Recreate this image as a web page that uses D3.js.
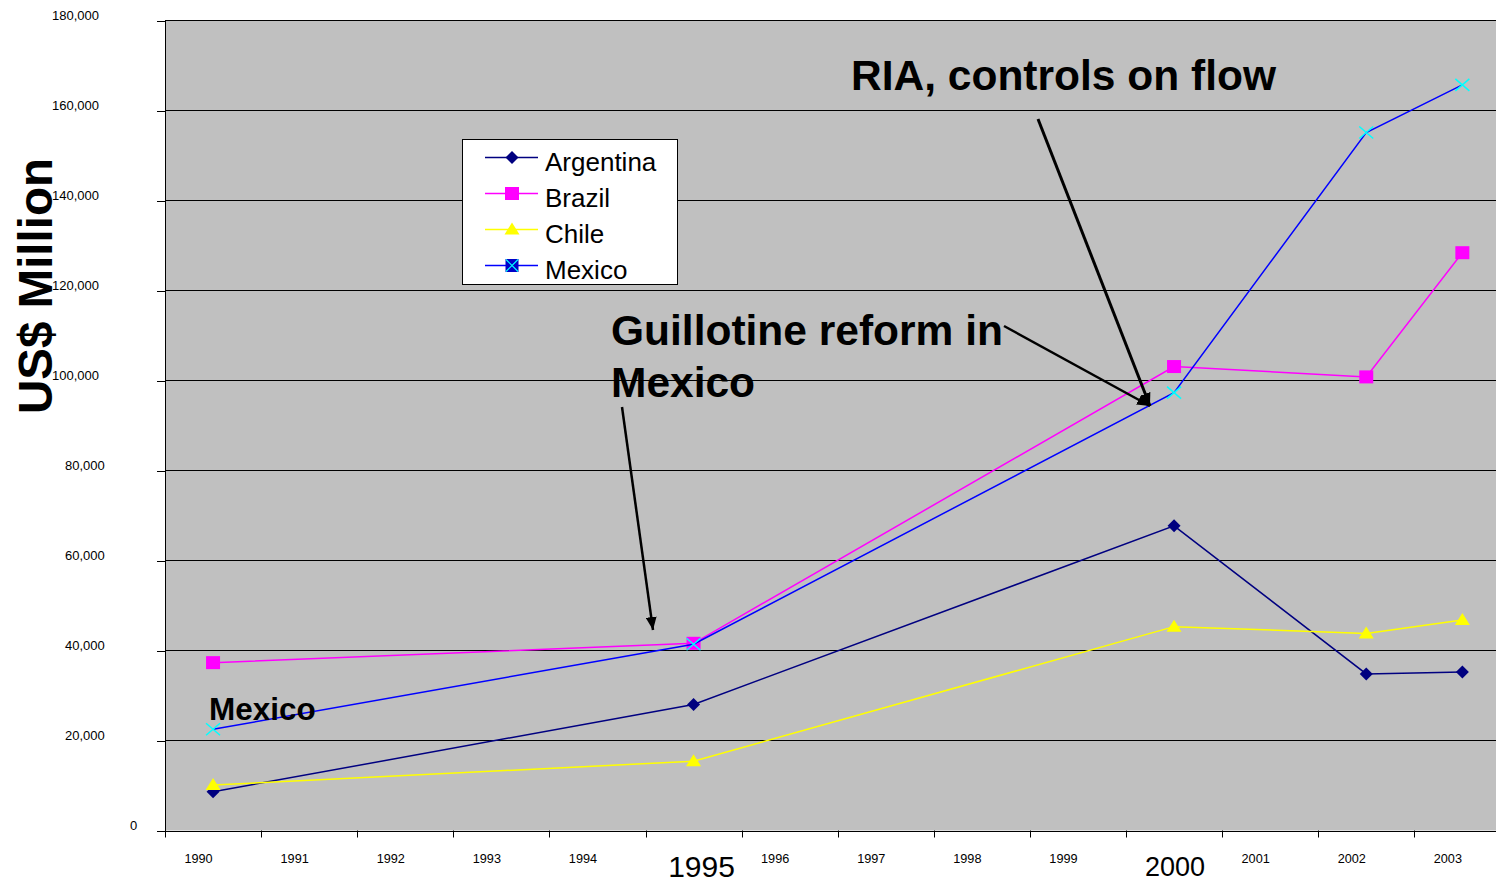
<!DOCTYPE html>
<html>
<head>
<meta charset="utf-8">
<script src="https://cdn.jsdelivr.net/npm/d3@7"></script>
<style>
  html, body { margin: 0; padding: 0; background: #fff; }
  svg { display: block; }
  text { font-family: "Liberation Sans", Arial, sans-serif; }
</style>
</head>
<body>
<svg id="chart" width="1496" height="882"></svg>
<script>
// ---------- data ----------
const categories = ["1990","1991","1992","1993","1994","1995","1996","1997","1998","1999","2000","2001","2002","2003"];
const argentina = [8600, null, null, null, null, 28000, null, null, null, null, 67700, null, 34800, 35200];
const brazil    = [37300, null, null, null, null, 41600, null, null, null, null, 103100, null, 100800, 128400];
const chile     = [10100, null, null, null, null, 15400, null, null, null, null, 45300, null, 43800, 46800];
const mexico    = [22500, null, null, null, null, 41400, null, null, null, null, 97300, null, 155100, 165700];
const seriesNames = ["Argentina", "Brazil", "Chile", "Mexico"];
const yTicks = [0, 20000, 40000, 60000, 80000, 100000, 120000, 140000, 160000, 180000];
const bigYearLabels = ["1995", "2000"];

// ---------- layout ----------
const svg = d3.select("#chart");
const plotLeft = 165, plotTop = 20.5, plotBottom = 830.5, band = 96.1;
const x = d3.scaleBand().domain(categories).range([plotLeft, plotLeft + band * categories.length]).padding(0);
const y = d3.scaleLinear().domain([0, 180000]).range([plotBottom, plotTop]);
const cx = c => x(c) + x.bandwidth() / 2;

// plot background
svg.append("rect")
  .attr("x", plotLeft).attr("y", plotTop)
  .attr("width", x.range()[1] - plotLeft).attr("height", plotBottom - plotTop)
  .attr("fill", "#C0C0C0");

// gridlines
svg.append("g").selectAll("line")
  .data(yTicks.filter(d => d > 0))
  .join("line")
  .attr("x1", plotLeft).attr("x2", x.range()[1])
  .attr("y1", d => y(d)).attr("y2", d => y(d))
  .attr("stroke", "#000").attr("stroke-width", 1)
  .attr("shape-rendering", "crispEdges");

// y axis
const yAxis = svg.append("g")
  .attr("transform", `translate(${plotLeft},0)`)
  .call(d3.axisLeft(y).tickValues(yTicks).tickSize(8).tickSizeOuter(0).tickFormat(d3.format(",")));
yAxis.select(".domain").attr("stroke", "#000").attr("shape-rendering", "crispEdges");
yAxis.selectAll(".tick line").attr("stroke", "#000").attr("shape-rendering", "crispEdges");
yAxis.selectAll(".tick text")
  .attr("text-anchor", "start")
  .attr("font-size", 13)
  .attr("font-family", "Liberation Sans, Arial, sans-serif")
  .attr("fill", "#000")
  .attr("y", -5)
  .attr("x", function() { return -22 - 13 * this.textContent.length; });

// x axis (labels)
const xAxis = svg.append("g")
  .attr("transform", `translate(0,${plotBottom})`)
  .call(d3.axisBottom(x).tickSize(0).tickSizeOuter(0)
    .tickFormat(d => bigYearLabels.includes(d) ? "" : d));
xAxis.select(".domain").attr("stroke", "#000").attr("shape-rendering", "crispEdges");
xAxis.selectAll(".tick text")
  .attr("font-size", 12.7)
  .attr("font-family", "Liberation Sans, Arial, sans-serif")
  .attr("fill", "#000")
  .attr("x", -14.5)
  .attr("y", 32)
  .attr("dy", 0);

// x tick marks at category boundaries
svg.append("g").selectAll("line")
  .data(categories)
  .join("line")
  .attr("x1", d => Math.round(x(d)) + 0.5).attr("x2", d => Math.round(x(d)) + 0.5)
  .attr("y1", plotBottom).attr("y2", plotBottom + 7)
  .attr("stroke", "#000").attr("stroke-width", 1);

// big year labels
svg.append("text").attr("x", cx("1995") + 8).attr("y", 877)
  .attr("text-anchor", "middle").attr("font-size", 30).text("1995");
svg.append("text").attr("x", cx("2000") + 1).attr("y", 876)
  .attr("text-anchor", "middle").attr("font-size", 27).text("2000");

// y title
svg.append("text")
  .attr("transform", "translate(52,286) rotate(-90)")
  .attr("text-anchor", "middle")
  .attr("font-size", 47.5).attr("font-weight", "bold")
  .text("US$ Million");

// ---------- series ----------
const markers = {
  diamond: g => g.append("path").attr("d", "M0,-6.5L6.5,0L0,6.5L-6.5,0Z").attr("fill", "#000080"),
  square: g => g.append("rect").attr("x", -7).attr("y", -6.5).attr("width", 14).attr("height", 13).attr("fill", "#FF00FF"),
  triangle: g => g.append("path").attr("d", "M0,-7L7.5,5L-7.5,5Z").attr("fill", "#FFFF00"),
  xmark: g => g.append("path").attr("d", "M-7,-6L7,6M-7,6L7,-6").attr("stroke", "#00FFFF").attr("stroke-width", 1.5).attr("fill", "none")
};
const series = [
  { name: seriesNames[0], values: argentina, color: "#000080", marker: "diamond" },
  { name: seriesNames[1], values: brazil, color: "#FF00FF", marker: "square" },
  { name: seriesNames[2], values: chile, color: "#FFFF00", marker: "triangle" },
  { name: seriesNames[3], values: mexico, color: "#0000FF", marker: "xmark" }
];
const line = d3.line().x(d => cx(d.c)).y(d => y(d.v));

series.forEach(s => {
  const pts = categories.map((c, i) => ({ c, v: s.values[i] })).filter(d => d.v != null);
  const g = svg.append("g");
  g.append("path").datum(pts).attr("d", line)
    .attr("fill", "none").attr("stroke", s.color).attr("stroke-width", 1.5);
  pts.forEach(p => {
    const m = g.append("g").attr("transform", `translate(${cx(p.c)},${y(p.v)})`);
    markers[s.marker](m);
  });
});

// ---------- legend ----------
const lg = svg.append("g");
lg.append("rect").attr("x", 462.5).attr("y", 139.5).attr("width", 215).attr("height", 145)
  .attr("fill", "#fff").attr("stroke", "#000").attr("stroke-width", 1);
series.forEach((s, i) => {
  const yy = 157.5 + i * 36;
  lg.append("line").attr("x1", 485).attr("x2", 538).attr("y1", yy).attr("y2", yy)
    .attr("stroke", s.color).attr("stroke-width", 1.5);
  const m = lg.append("g").attr("transform", `translate(512,${yy})`);
  if (s.marker === "xmark") {
    m.append("rect").attr("x", -6.5).attr("y", -6.5).attr("width", 13).attr("height", 13).attr("fill", "#0000C8");
    m.append("path").attr("d", "M-6,-6L6,6M-6,6L6,-6").attr("stroke", "#00FFFF").attr("stroke-width", 1.2);
  } else {
    markers[s.marker](m);
  }
  lg.append("text").attr("x", 545).attr("y", yy + 13).attr("font-size", 26).text(s.name);
});

// ---------- annotations ----------
const defs = svg.append("defs");
defs.append("marker").attr("id", "ah")
  .attr("markerUnits", "userSpaceOnUse")
  .attr("viewBox", "0 0 12 10").attr("refX", 12).attr("refY", 5)
  .attr("markerWidth", 13).attr("markerHeight", 11).attr("orient", "auto")
  .append("path").attr("d", "M0,0L12,5L0,10Z").attr("fill", "#000");

const arrows = [
  { x1: 1038, y1: 119, x2: 1150, y2: 406, w: 3 },
  { x1: 1004, y1: 326, x2: 1150, y2: 406, w: 2.5 },
  { x1: 622, y1: 407, x2: 653, y2: 630, w: 2.5 }
];
svg.append("g").selectAll("line").data(arrows).join("line")
  .attr("x1", d => d.x1).attr("y1", d => d.y1).attr("x2", d => d.x2).attr("y2", d => d.y2)
  .attr("stroke", "#000").attr("stroke-width", d => d.w).attr("marker-end", "url(#ah)");

svg.append("text").attr("x", 851).attr("y", 90).attr("font-size", 42.5).attr("font-weight", "bold")
  .text("RIA, controls on flow");
svg.append("text").attr("x", 611).attr("y", 345).attr("font-size", 42.5).attr("font-weight", "bold")
  .text("Guillotine reform in");
svg.append("text").attr("x", 611).attr("y", 397).attr("font-size", 42.5).attr("font-weight", "bold")
  .text("Mexico");
svg.append("text").attr("x", 209).attr("y", 720).attr("font-size", 31.5).attr("font-weight", "bold")
  .text("Mexico");
</script>
</body>
</html>
